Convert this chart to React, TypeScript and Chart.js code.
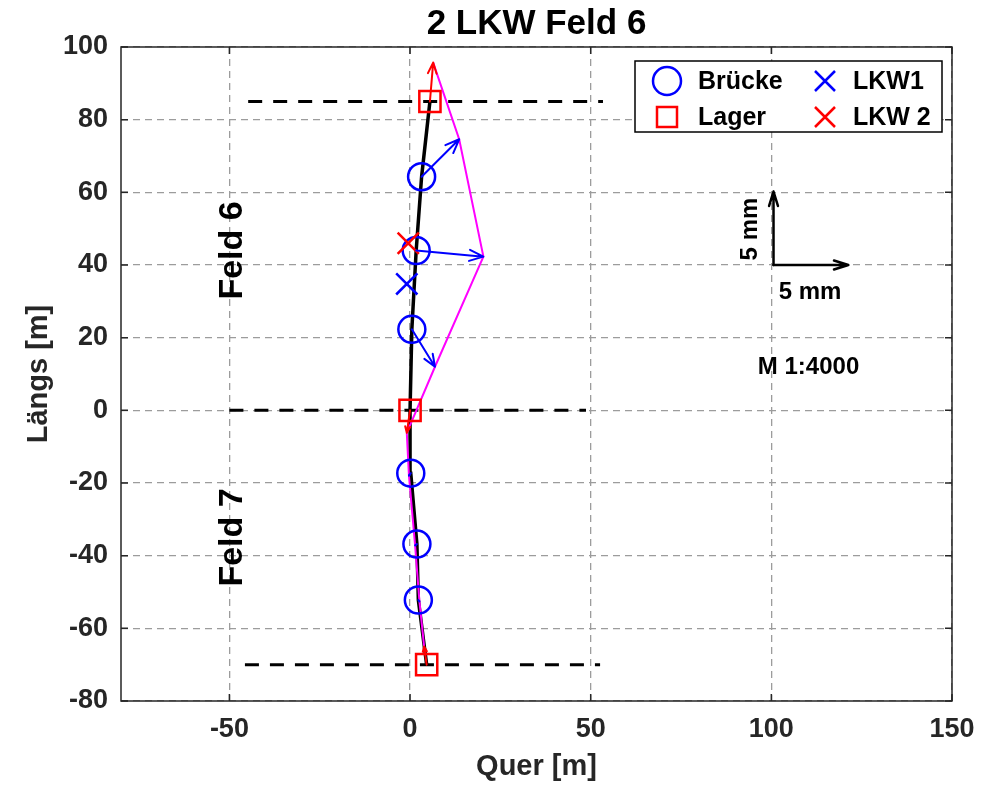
import React, { useEffect, useRef } from 'react';
import { Chart, registerables } from 'chart.js';

Chart.register(...registerables);

// ---------- data ----------
const titleText = '2 LKW Feld 6';
const xAxisTitle = 'Quer [m]';
const yAxisTitle = 'Längs [m]';
const xRange = [-80, 150];
const yRange = [-80, 100];
const xTicks = [-50, 0, 50, 100, 150];
const yTicks = [-80, -60, -40, -20, 0, 20, 40, 60, 80, 100];

// bridge axis (undeformed), bottom to top
const bridgeX = [4.6, 2.3, 1.9, 0.2, 0.0, 0.5, 1.7, 3.2, 5.5];
const bridgeY = [-70, -52.2, -36.8, -17.3, 0, 22.3, 44.0, 64.3, 85];
// node type: L = Lager, B = Brücke
const nodeType = ['L', 'B', 'B', 'B', 'L', 'B', 'B', 'B', 'L'];
// deformed shape (scaled), bottom to top
const deformedX = [3.9, 2.6, 1.4, -0.3, -0.9, 6.9, 20.3, 13.6, 6.4];
const deformedY = [-65.0, -52.6, -37.2, -18.0, -6.2, 12.0, 42.3, 74.6, 95.7];

const brueckeX = [2.3, 1.9, 0.2, 0.5, 1.7, 3.2];
const brueckeY = [-52.2, -36.8, -17.3, 22.3, 44.0, 64.3];
const lagerX = [4.6, 0.0, 5.5];
const lagerY = [-70, 0, 85];
const lkw1X = [-0.9];
const lkw1Y = [34.8];
const lkw2X = [-0.5];
const lkw2Y = [46.0];

// field boundary lines
const fieldLineY = [85, 0, -70];
const fieldLineStartX = [-44.8, -50, -45.7];
const fieldLineEndX = [53.4, 48.7, 52.6];

const fieldLabels = ['Feld 6', 'Feld 7'];
const fieldLabelX = [-49, -49];
const fieldLabelY = [44, -35];

// scale bar
const scaleOrigin = [100.6, 40.0];
const scaleTipX = 121.3;
const scaleTipY = 60.2;
const scaleLabels = ['5 mm', '5 mm', 'M 1:4000'];
const scaleLabelX = [94.1, 110.7, 110.3];
const scaleLabelY = [49.9, 32.6, 11.9];

const legendLabels = ['Brücke', 'Lager', 'LKW1', 'LKW 2'];

// ---------- helpers ----------
const FAMILY = '"Liberation Sans", Arial, Helvetica, sans-serif';
const pts = (xs: number[], ys: number[]) => xs.map((x, i) => ({ x, y: ys[i] }));

function drawArrow(ctx: CanvasRenderingContext2D, x0: number, y0: number, x1: number, y1: number,
  color: string, lw: number, headLen: number, half: number) {
  const dx = x1 - x0, dy = y1 - y0;
  const len = Math.hypot(dx, dy);
  if (len < 0.5) return;
  const ang = Math.atan2(dy, dx);
  ctx.save();
  ctx.strokeStyle = color;
  ctx.lineWidth = lw;
  ctx.lineCap = 'round';
  ctx.lineJoin = 'round';
  ctx.beginPath();
  ctx.moveTo(x0, y0);
  ctx.lineTo(x1, y1);
  ctx.moveTo(x1 - headLen * Math.cos(ang - half), y1 - headLen * Math.sin(ang - half));
  ctx.lineTo(x1, y1);
  ctx.lineTo(x1 - headLen * Math.cos(ang + half), y1 - headLen * Math.sin(ang + half));
  ctx.stroke();
  ctx.restore();
}

function drawCross(ctx: CanvasRenderingContext2D, cx: number, cy: number, h: number, color: string, lw: number) {
  ctx.save();
  ctx.strokeStyle = color;
  ctx.lineWidth = lw;
  ctx.beginPath();
  ctx.moveTo(cx - h, cy - h); ctx.lineTo(cx + h, cy + h);
  ctx.moveTo(cx - h, cy + h); ctx.lineTo(cx + h, cy - h);
  ctx.stroke();
  ctx.restore();
}

const overlayPlugin = {
  id: 'overlay',
  afterDatasetsDraw(chart: any) {
    const { ctx, chartArea: a, scales } = chart;
    const sx = scales.x, sy = scales.y;
    const px = (v: number) => sx.getPixelForValue(v);
    const py = (v: number) => sy.getPixelForValue(v);

    // displacement arrows
    for (let i = 0; i < bridgeX.length; i++) {
      const x0 = px(bridgeX[i]), y0 = py(bridgeY[i]);
      const x1 = px(deformedX[i]), y1 = py(deformedY[i]);
      const len = Math.hypot(x1 - x0, y1 - y0);
      const head = Math.min(15, 0.3 * len);
      const col = nodeType[i] === 'L' ? '#ff0000' : '#0000ff';
      drawArrow(ctx, x0, y0, x1, y1, col, 2, head, 0.38);
    }

    // frame + inward ticks
    ctx.save();
    ctx.strokeStyle = '#262626';
    ctx.lineWidth = 1.5;
    ctx.strokeRect(a.left, a.top, a.right - a.left, a.bottom - a.top);
    ctx.beginPath();
    const tl = 7;
    xTicks.forEach((v) => {
      const x = px(v);
      ctx.moveTo(x, a.bottom); ctx.lineTo(x, a.bottom - tl);
      ctx.moveTo(x, a.top); ctx.lineTo(x, a.top + tl);
    });
    yTicks.forEach((v) => {
      const y = py(v);
      ctx.moveTo(a.left, y); ctx.lineTo(a.left + tl, y);
      ctx.moveTo(a.right, y); ctx.lineTo(a.right - tl, y);
    });
    ctx.stroke();
    ctx.restore();

    // field labels (rotated)
    ctx.save();
    ctx.fillStyle = '#000000';
    ctx.font = `bold 34px ${FAMILY}`;
    ctx.textAlign = 'center';
    ctx.textBaseline = 'middle';
    fieldLabels.forEach((t, i) => {
      ctx.save();
      ctx.translate(px(fieldLabelX[i]), py(fieldLabelY[i]));
      ctx.rotate(-Math.PI / 2);
      ctx.fillText(t, 0, 0);
      ctx.restore();
    });
    ctx.restore();

    // scale bar
    const ox = px(scaleOrigin[0]), oy = py(scaleOrigin[1]);
    drawArrow(ctx, ox, oy, ox, py(scaleTipY), '#000000', 2.5, 15, 0.3);
    drawArrow(ctx, ox, oy, px(scaleTipX), oy, '#000000', 2.5, 15, 0.3);
    ctx.save();
    ctx.fillStyle = '#000000';
    ctx.font = `bold 24px ${FAMILY}`;
    ctx.textAlign = 'center';
    ctx.textBaseline = 'middle';
    ctx.save();
    ctx.translate(px(scaleLabelX[0]), py(scaleLabelY[0]));
    ctx.rotate(-Math.PI / 2);
    ctx.fillText(scaleLabels[0], 0, 0);
    ctx.restore();
    ctx.fillText(scaleLabels[1], px(scaleLabelX[1]), py(scaleLabelY[1]));
    ctx.fillText(scaleLabels[2], px(scaleLabelX[2]), py(scaleLabelY[2]));
    ctx.restore();

    // legend
    const lw = 307, lh = 71;
    const lx = a.right - 10 - lw, ly = a.top + 14;
    ctx.save();
    ctx.fillStyle = '#ffffff';
    ctx.fillRect(lx, ly, lw, lh);
    ctx.strokeStyle = '#000000';
    ctx.lineWidth = 1.5;
    ctx.strokeRect(lx, ly, lw, lh);
    const r1 = ly + 20, r2 = ly + 56;
    ctx.strokeStyle = '#0000ff';
    ctx.lineWidth = 2.5;
    ctx.beginPath();
    ctx.arc(lx + 32, r1, 14, 0, Math.PI * 2);
    ctx.stroke();
    ctx.strokeStyle = '#ff0000';
    ctx.strokeRect(lx + 22, r2 - 10, 20, 20);
    drawCross(ctx, lx + 190, r1, 10, '#0000ff', 2.5);
    drawCross(ctx, lx + 190, r2, 10, '#ff0000', 2.5);
    ctx.fillStyle = '#000000';
    ctx.font = `bold 25px ${FAMILY}`;
    ctx.textAlign = 'left';
    ctx.textBaseline = 'middle';
    ctx.fillText(legendLabels[0], lx + 63, r1 + 1);
    ctx.fillText(legendLabels[1], lx + 63, r2 + 1);
    ctx.fillText(legendLabels[2], lx + 218, r1 + 1);
    ctx.fillText(legendLabels[3], lx + 218, r2 + 1);
    ctx.restore();

    // title
    ctx.save();
    ctx.fillStyle = '#000000';
    ctx.font = `bold 35px ${FAMILY}`;
    ctx.textAlign = 'center';
    ctx.textBaseline = 'middle';
    ctx.fillText(titleText, (a.left + a.right) / 2, 24);
    ctx.restore();
  },
};

export default function App() {
  const ref = useRef<HTMLCanvasElement | null>(null);
  useEffect(() => {
    if (!ref.current) return;
    const tickFont = { family: FAMILY, size: 27, weight: 'bold' as const };
    const titleFont = { family: FAMILY, size: 29, weight: 'bold' as const };
    const fieldDatasets = fieldLineY.map((yv, i) => ({
      label: `Feldgrenze ${i + 1}`,
      data: [{ x: fieldLineStartX[i], y: yv }, { x: fieldLineEndX[i], y: yv }],
      showLine: true,
      borderColor: '#000000',
      borderWidth: 3,
      borderDash: [14, 11],
      pointRadius: 0,
      order: 20 + i,
    }));
    const chart = new Chart(ref.current, {
      type: 'scatter',
      data: {
        datasets: [
          ...fieldDatasets,
          {
            label: 'Brückenachse',
            data: pts(bridgeX, bridgeY),
            showLine: true,
            borderColor: '#000000',
            borderWidth: 3.5,
            pointRadius: 0,
            order: 10,
          },
          {
            label: 'Verformung',
            data: pts(deformedX, deformedY),
            showLine: true,
            borderColor: '#ff00ff',
            borderWidth: 2,
            pointRadius: 0,
            order: 9,
          },
          {
            label: 'Brücke',
            data: pts(brueckeX, brueckeY),
            pointStyle: 'circle',
            pointRadius: 13.5,
            pointBorderWidth: 2.5,
            pointBorderColor: '#0000ff',
            pointBackgroundColor: 'rgba(0,0,0,0)',
            order: 4,
          },
          {
            label: 'Lager',
            data: pts(lagerX, lagerY),
            pointStyle: 'rect',
            pointRadius: 15,
            pointBorderWidth: 2.5,
            pointBorderColor: '#ff0000',
            pointBackgroundColor: 'rgba(0,0,0,0)',
            order: 3,
          },
          {
            label: 'LKW1',
            data: pts(lkw1X, lkw1Y),
            pointStyle: 'crossRot',
            pointRadius: 15,
            pointBorderWidth: 2.5,
            pointBorderColor: '#0000ff',
            order: 2,
          },
          {
            label: 'LKW 2',
            data: pts(lkw2X, lkw2Y),
            pointStyle: 'crossRot',
            pointRadius: 15,
            pointBorderWidth: 2.5,
            pointBorderColor: '#ff0000',
            order: 1,
          },
        ] as any,
      },
      options: {
        responsive: false,
        animation: false,
        devicePixelRatio: 1,
        events: [],
        layout: { padding: { top: 47, right: 41, left: 0, bottom: 0 } },
        plugins: {
          legend: { display: false },
          tooltip: { enabled: false },
          title: { display: false },
        },
        scales: {
          x: {
            type: 'linear',
            min: xRange[0],
            max: xRange[1],
            afterBuildTicks: (s: any) => { s.ticks = xTicks.map((v) => ({ value: v })); },
            afterFit: (s: any) => { s.height = 85; },
            grid: { color: '#9c9c9c', lineWidth: 1.3, drawTicks: false },
            border: { display: false, dash: [7, 5] },
            ticks: { color: '#262626', font: tickFont, padding: 12, maxRotation: 0, autoSkip: false },
            title: { display: true, text: xAxisTitle, color: '#262626', font: titleFont, padding: { top: 0, bottom: 2 } },
          },
          y: {
            type: 'linear',
            min: yRange[0],
            max: yRange[1],
            afterBuildTicks: (s: any) => { s.ticks = yTicks.map((v) => ({ value: v })); },
            afterFit: (s: any) => { s.width = 121; },
            grid: { color: '#9c9c9c', lineWidth: 1.3, drawTicks: false },
            border: { display: false, dash: [7, 5] },
            ticks: { color: '#262626', font: tickFont, padding: 13, autoSkip: false },
            title: { display: true, text: yAxisTitle, color: '#262626', font: titleFont, padding: { top: 22, bottom: 0 } },
          },
        },
      } as any,
      plugins: [overlayPlugin],
    });
    return () => chart.destroy();
  }, []);
  return (
    <div style={{ position: 'absolute', left: 0, top: 0, width: 993, height: 786, background: '#ffffff' }}>
      <canvas ref={ref} width={993} height={786} style={{ display: 'block' }} />
    </div>
  );
}
